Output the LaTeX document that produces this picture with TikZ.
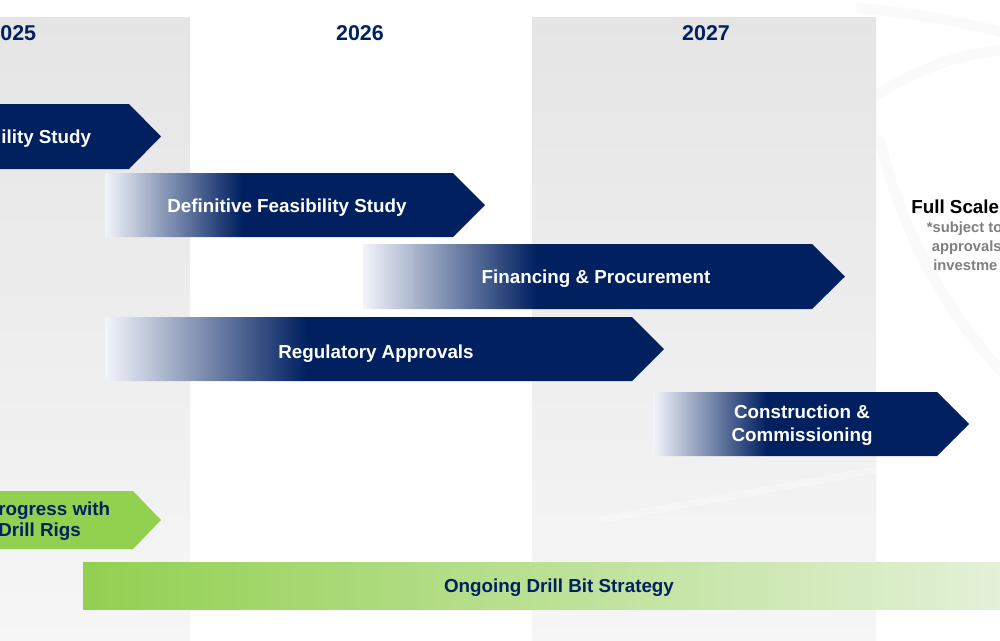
\documentclass[tikz,border=0pt]{standalone}
\usepackage{fontspec}
\setmainfont{Liberation Sans}
\definecolor{navy}{RGB}{0,32,96}
\definecolor{leaf}{RGB}{146,208,80}
\definecolor{paleleaf}{RGB}{228,241,217}
\definecolor{fadeblue}{RGB}{242,244,250}
\definecolor{notegray}{RGB}{127,127,127}
\definecolor{colgray}{RGB}{229,229,229}
\definecolor{colpale}{RGB}{246,246,246}
\pgfdeclarehorizontalshading{fadenavy}{100bp}{color(0bp)=(fadeblue); color(25bp)=(fadeblue); color(43bp)=(navy); color(100bp)=(navy)}
\begin{document}
\begin{tikzpicture}[x=0.02cm, y=-0.02cm,
  year/.style={text=navy, font=\fontsize{12.2}{14}\selectfont\bfseries, inner sep=0pt},
  phase/.style={shading=fadenavy},
  phasetext/.style={text=white, font=\fontsize{10.7}{13}\selectfont\bfseries, inner sep=0pt, align=center},
  drilltext/.style={text=navy, font=\fontsize{10.7}{12}\selectfont\bfseries, inner sep=0pt},
  notetext/.style={text=notegray, font=\fontsize{8.4}{10}\selectfont\bfseries, inner sep=0pt, anchor=base west},
  swoosh/.style={black!2, line width=6, line cap=round}]
\useasboundingbox (0,0) rectangle (1000,640);
\clip (0,0) rectangle (1000,640);
% background swooshes
\draw[swoosh] (876,95) .. controls (930,62) and (970,52) .. (1010,50);
\draw[swoosh] (880,140) .. controls (900,230) and (950,320) .. (1010,380);
\draw[swoosh] (860,8) .. controls (920,14) and (970,24) .. (1010,34);
% year columns
\shade[top color=colgray, bottom color=colpale] (-5,17) rectangle (190,645);
\shade[top color=colgray, bottom color=colpale] (532,17) rectangle (876,645);
\draw[white, line width=4, opacity=.35] (190,625) -- (420,590);
\draw[white, line width=4, opacity=.35] (600,520) -- (876,470);
\node[year, anchor=base west] (y25) at (0,40) {025};
\node[year, anchor=base] (y26) at (360,40) {2026};
\node[year, anchor=base] (y27) at (706,40) {2027};
% phases
\fill[navy] (-10,104) -- (129,104) -- (161,136.5) -- (129,169) -- (-10,169) -- cycle;
\node[phasetext, anchor=base west] (pfs) at (1,143) {ility Study};
\shade[phase] (105,173) -- (453,173) -- (485,205) -- (453,237) -- (105,237) -- cycle;
\node[phasetext, anchor=base] (dfs) at (287,212) {Definitive Feasibility Study};
\shade[phase] (363,244) -- (812,244) -- (845,276.5) -- (812,309) -- (363,309) -- cycle;
\node[phasetext, anchor=base] (fin) at (596,283) {Financing \& Procurement};
\shade[phase] (105,317) -- (632,317) -- (664,349) -- (632,381) -- (105,381) -- cycle;
\node[phasetext, anchor=base] (reg) at (376,358) {Regulatory Approvals};
\shade[phase] (653,392) -- (937,392) -- (969,424) -- (937,456) -- (653,456) -- cycle;
\node[phasetext] (con) at (802,425) {Construction \&\\Commissioning};
% drilling
\fill[leaf] (-10,491) -- (133,491) -- (161,520) -- (133,549) -- (-10,549) -- cycle;
\node[drilltext, align=left, anchor=west] (rigs) at (-2,521.5) {rogress with\\Drill Rigs};
\shade[left color=leaf, right color=paleleaf] (83,562) rectangle (1010,609);
\node[drilltext, anchor=base] (bits) at (559,592) {Ongoing Drill Bit Strategy};
% production
\node[text=black, font=\fontsize{10.7}{13}\selectfont\bfseries, inner sep=0pt, anchor=base west] (full) at (911,213) {Full Scale};
\node[notetext] (subj) at (926.5,232) {*subject to};
\node[notetext] (appr) at (931.5,251) {approvals};
\node[notetext] (inv) at (933,270) {investme};
\end{tikzpicture}
\end{document}
